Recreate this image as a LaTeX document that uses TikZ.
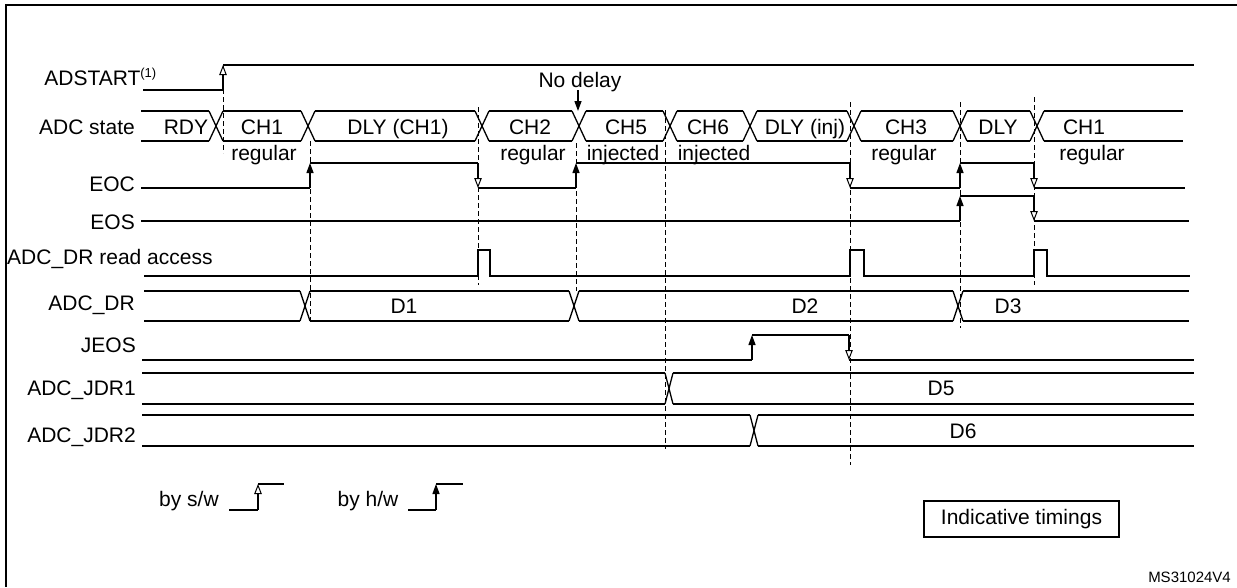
\documentclass[tikz,border=0pt]{standalone}
\usepackage{fontspec}
\setmainfont{Liberation Sans}
\usetikzlibrary{arrows.meta}
\tikzset{
  sig/.style={line width=1.3pt, line cap=butt, line join=miter},
  hwtip/.style={sig, -{Triangle[width=7pt,length=10pt]}},
  swtip/.style={sig, -{Triangle[open,width=7.5pt,length=10pt,line width=1pt,fill=white]}},
  dashv/.style={line width=0.9pt, dash pattern=on 5pt off 3pt},
  lbl/.style={anchor=base east, inner sep=0pt},
  txt/.style={anchor=base, inner sep=0pt},
}
\begin{document}
\begin{tikzpicture}[x=1pt,y=-1pt,font=\fontsize{21}{25}\selectfont]
\useasboundingbox (0,0) rectangle (1237,587);
% frame
\draw[line width=2.5pt] (5,5) -- (1237,5);
\draw[line width=2pt] (6,4) -- (6,587);

% dashed guide lines
\draw[dashv] (223,65) -- (223,153);
\draw[dashv] (310,141) -- (310,321);
\draw[dashv] (478,107) -- (478,285);
\draw[dashv] (576,143) -- (576,291);
\draw[dashv] (665,110) -- (665,449);
\draw[dashv] (850,102) -- (850,465);
\draw[dashv] (960,102) -- (960,328);
\draw[dashv] (1034,97) -- (1034,285);

% labels
\node[lbl] (lstart) at (157,85) {ADSTART\textsuperscript{\fontsize{13}{15}\selectfont(1)}};
\node[lbl] (lstate) at (135,134.5) {ADC state};
\node[lbl] (leoc) at (135,191) {EOC};
\node[lbl] (leos) at (135,229.5) {EOS};
\node[anchor=base west, inner sep=0pt] (lread) at (7,264.5) {ADC\_DR read access};
\node[lbl] (ldr) at (135,310.5) {ADC\_DR};
\node[lbl] (ljeos) at (136,352.5) {JEOS};
\node[lbl] (ljdr1) at (136,395.5) {ADC\_JDR1};
\node[lbl] (ljdr2) at (136,442.5) {ADC\_JDR2};

% ADSTART
\draw[sig] (143,90) -- (223,90);
\draw[swtip] (223,90) -- (223,65);
\draw[sig] (223,65) -- (1194,65);
\node[txt] (nodelay) at (580,87.5) {No delay};
\draw[hwtip] (578,90) -- (578,111);

% ADC state bus
\foreach \a/\b in {141/209,223/301,315/475,489/572,586/663,677/743,757/847,861/953,967/1030,1044/1183}{
  \draw[sig] (\a,111) -- (\b,111);
  \draw[sig] (\a,141) -- (\b,141);
}
\foreach \c in {216,308,482,579,670,750,854,960,1037}{
  \draw[sig] ({\c-7},111) -- ({\c+7},141);
  \draw[sig] ({\c-7},141) -- ({\c+7},111);
}
\node[txt] (s1) at (186,134.5) {RDY};
\node[txt] (s2) at (262,134.5) {CH1};
\node[txt] (s3) at (398,134.5) {DLY (CH1)};
\node[txt] (s4) at (530,134.5) {CH2};
\node[txt] (s5) at (626,134.5) {CH5};
\node[txt] (s6) at (708,134.5) {CH6};
\node[txt] (s7) at (805,134.5) {DLY (inj)};
\node[txt] (s8) at (906,134.5) {CH3};
\node[txt] (s9) at (998,134.5) {DLY};
\node[txt] (s10) at (1084,134.5) {CH1};
\node[txt] (r1) at (264,160.5) {regular};
\node[txt] (r2) at (533,160.5) {regular};
\node[txt] (r3) at (623,160.5) {injected};
\node[txt] (r4) at (714,160.5) {injected};
\node[txt] (r5) at (904,160.5) {regular};
\node[txt] (r6) at (1092,160.5) {regular};

% EOC
\draw[sig] (141,188) -- (310,188);
\draw[hwtip] (310,188) -- (310,163);
\draw[sig] (310,163) -- (478,163);
\draw[swtip] (478,163) -- (478,188);
\draw[sig] (478,188) -- (576,188);
\draw[hwtip] (576,188) -- (576,163);
\draw[sig] (576,163) -- (850,163);
\draw[swtip] (850,163) -- (850,188);
\draw[sig] (850,188) -- (960,188);
\draw[hwtip] (960,188) -- (960,163);
\draw[sig] (960,163) -- (1034,163);
\draw[swtip] (1034,163) -- (1034,188);
\draw[sig] (1034,188) -- (1185,188);

% EOS
\draw[sig] (141,221) -- (960,221);
\draw[hwtip] (960,221) -- (960,196);
\draw[sig] (960,196) -- (1034,196);
\draw[swtip] (1034,196) -- (1034,221);
\draw[sig] (1034,221) -- (1189,221);

% ADC_DR read access
\draw[sig] (144,276) -- (478,276) -- (478,250) -- (490,250) -- (490,276)
  -- (850,276) -- (850,250) -- (864,250) -- (864,276)
  -- (1034,276) -- (1034,250) -- (1047,250) -- (1047,276) -- (1190,276);

% ADC_DR bus
\foreach \a/\b in {144/300,310/569,579/953,963/1189}{
  \draw[sig] (\a,291) -- (\b,291);
  \draw[sig] (\a,321) -- (\b,321);
}
\foreach \c in {305,574,958}{
  \draw[sig] ({\c-5},291) -- ({\c+5},321);
  \draw[sig] ({\c-5},321) -- ({\c+5},291);
}
\node[txt] (d1) at (404,313.5) {D1};
\node[txt] (d2) at (805,313.5) {D2};
\node[txt] (d3) at (1008,313.5) {D3};

% JEOS
\draw[sig] (142,360) -- (752,360);
\draw[hwtip] (752,360) -- (752,335);
\draw[sig] (752,335) -- (849,335);
\draw[swtip] (849,335) -- (849,360);
\draw[sig] (849,360) -- (1194,360);

% ADC_JDR1
\foreach \a/\b in {142/665,673/1194}{
  \draw[sig] (\a,373) -- (\b,373);
  \draw[sig] (\a,404) -- (\b,404);
}
\draw[sig] (665,373) -- (673,404);
\draw[sig] (665,404) -- (673,373);
\node[txt] (d5) at (941,395.5) {D5};

% ADC_JDR2
\foreach \a/\b in {142/750,758/1194}{
  \draw[sig] (\a,415) -- (\b,415);
  \draw[sig] (\a,446) -- (\b,446);
}
\draw[sig] (750,415) -- (758,446);
\draw[sig] (750,446) -- (758,415);
\node[txt] (d6) at (963,438) {D6};

% legend
\node[txt] (bysw) at (189,506) {by s/w};
\draw[sig] (229,510) -- (258,510);
\draw[swtip] (258,510) -- (258,484);
\draw[sig] (258,484) -- (284,484);
\node[txt] (byhw) at (368,506) {by h/w};
\draw[sig] (408,510) -- (436,510);
\draw[hwtip] (436,510) -- (436,484);
\draw[sig] (436,484) -- (463,484);

\node[draw, line width=1.2pt, minimum width=195pt, minimum height=36pt, inner sep=0pt] (ind) at (1021.5,519) {Indicative timings};
\node[anchor=base east, inner sep=0pt, font=\fontsize{15}{18}\selectfont] (ms) at (1231,582) {MS31024V4};
\end{tikzpicture}
\end{document}
